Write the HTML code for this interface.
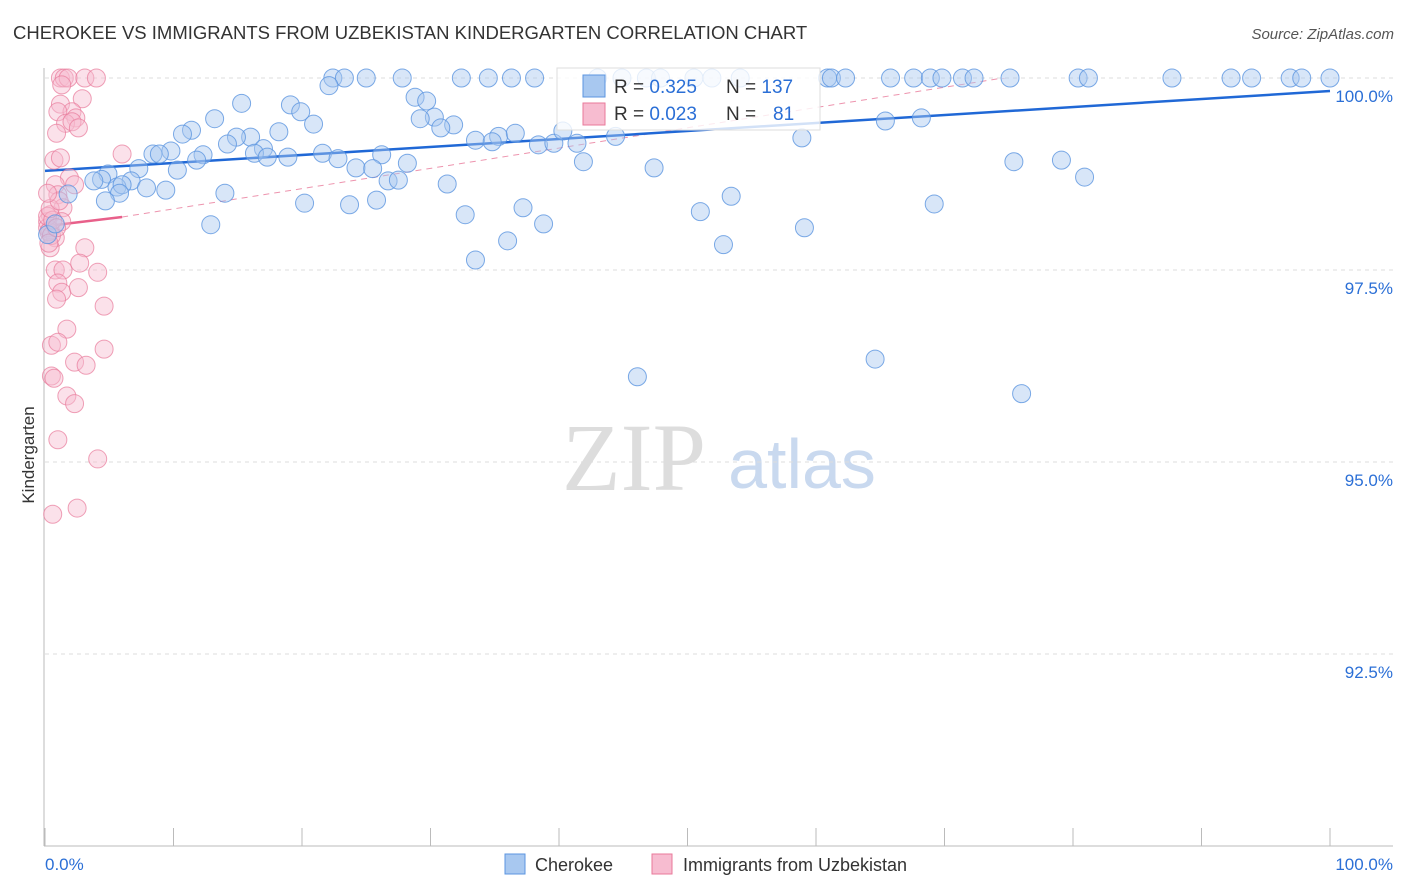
<!DOCTYPE html>
<html><head><meta charset="utf-8"><style>
body{margin:0;background:#fff;font-family:"Liberation Sans",sans-serif}
svg{display:block}
</style></head><body>
<svg id="chart" width="1406" height="892" viewBox="0 0 1406 892">
<text x="13" y="39" font-size="18.5" fill="#333">CHEROKEE VS IMMIGRANTS FROM UZBEKISTAN KINDERGARTEN CORRELATION CHART</text>
<text x="1394" y="39" font-size="15" fill="#555" font-style="italic" text-anchor="end">Source: ZipAtlas.com</text>
<text x="34" y="455" font-size="17" fill="#333" transform="rotate(-90 34 455)" text-anchor="middle">Kindergarten</text>
<g>
<text x="634" y="490" font-size="96" fill="#ddd" text-anchor="middle" font-family="Liberation Serif,serif">ZIP</text>
<text x="802" y="488" font-size="70" fill="#c9d9ef" text-anchor="middle">atlas</text>
</g>
<g id="grid"></g><g id="axes"></g>
<defs><clipPath id="clip"><rect x="40" y="78" width="1360" height="769"/></clipPath></defs>
<g id="trends" clip-path="url(#clip)"></g>
<g id="points"></g>
<g>
<rect x="557" y="68" width="263" height="62" fill="#fff" fill-opacity="0.8" stroke="#ddd"/>
<rect x="583" y="75" width="22" height="22" fill="#a8c8f0" stroke="#5b95e0"/>
<rect x="583" y="103" width="22" height="22" fill="#f7bcd0" stroke="#e8799a"/>
<text x="614" y="93" font-size="19" fill="#333">R = <tspan fill="#2b6fd6">0.325</tspan><tspan x="726">N = </tspan><tspan fill="#2b6fd6">137</tspan></text>
<text x="614" y="120" font-size="19" fill="#333">R = <tspan fill="#2b6fd6">0.023</tspan><tspan x="726">N = </tspan><tspan fill="#2b6fd6" x="773">81</tspan></text>
</g>
<g>
<rect x="505" y="854" width="20" height="20" fill="#a8c8f0" stroke="#5b95e0"/>
<text x="535" y="871" font-size="18" fill="#333">Cherokee</text>
<rect x="652" y="854" width="20" height="20" fill="#f7bcd0" stroke="#e8799a"/>
<text x="683" y="871" font-size="18" fill="#333">Immigrants from Uzbekistan</text>
</g>
</svg>
<script>
const yTicks=[100,97.5,95,92.5];
const yTickLabels=["100.0%","97.5%","95.0%","92.5%"];
const xTickLabels=["0.0%","100.0%"];
const blueX=[22.4,23.3,25.0,27.8,32.4,34.5,36.3,38.1,43.0,44.9,46.8,47.9,50.5,51.9,54.1,60.9,61.2,62.3,65.8,67.6,68.9,69.8,71.4,72.3,75.1,80.4,81.2,87.7,92.3,93.9,96.9,97.8,100,
22.1,15.3,19.1,28.8,29.7,19.9,30.3,29.2,13.2,20.9,31.8,30.8,11.4,10.7,18.2,16.0,14.9,14.2,17.0,9.8,8.4,8.9,16.3,21.6,26.2,12.3,17.3,18.9,11.8,22.8,28.2,24.2,25.5,10.3,7.3,26.7,27.5,31.3,4.9,4.4,3.8,6.7,5.6,6.0,7.9,9.4,14.0,1.8,5.8,4.7,20.2,23.7,25.8,12.9,32.7,37.2,36.0,38.8,33.5,33.5,35.3,36.6,34.8,38.4,39.6,40.3,41.4,41.9,44.4,47.4,51.0,52.8,53.4,59.1,58.9,64.6,46.1,65.4,68.2,69.2,75.4,79.1,80.9,76.0,0.2,0.8];
const blueY=[100,100,100,100,100,100,100,100,100,100,100,100,100,100,100,100,100,100,100,100,100,100,100,100,100,100,100,100,100,100,100,100,100,
99.9,99.67,99.65,99.75,99.7,99.56,99.49,99.47,99.47,99.4,99.39,99.35,99.32,99.27,99.3,99.23,99.23,99.14,99.08,99.05,99.01,99.01,99.02,99.02,99.0,99.0,98.97,98.97,98.93,98.95,98.89,98.83,98.82,98.8,98.82,98.66,98.67,98.62,98.75,98.68,98.66,98.66,98.58,98.61,98.57,98.54,98.5,98.49,98.5,98.4,98.37,98.35,98.41,98.09,98.22,98.31,97.88,98.1,97.63,99.19,99.24,99.28,99.17,99.13,99.15,99.31,99.15,98.91,99.24,98.83,98.26,97.83,98.46,98.05,99.22,96.34,96.11,99.44,99.48,98.36,98.91,98.93,98.71,95.89,97.96,98.1];
const pinkX=[1.2,1.5,1.8,3.1,4.0,1.3,1.2,2.9,2.1,2.4,1.0,1.6,2.1,2.6,0.9,0.7,1.2,6.0,1.9,0.8,2.3,1.0,1.4,0.4,0.2,1.3,0.4,0.8,0.4,3.1,2.7,0.8,1.4,4.1,1.0,1.3,2.6,0.9,4.6,1.7,0.5,1.0,4.6,2.3,3.2,0.5,0.7,1.7,2.3,1.0,4.1,0.6,2.5,0.2,0.3,0.5,0.2,0.6,0.4,0.3,0.9,1.1,0.2];
const pinkY=[100,100,100,100,100,99.91,99.66,99.73,99.56,99.48,99.56,99.41,99.43,99.35,99.28,98.93,98.96,99.01,98.7,98.61,98.61,98.48,98.31,98.22,98.13,98.13,98.02,97.92,97.79,97.79,97.59,97.5,97.5,97.47,97.33,97.21,97.27,97.12,97.03,96.73,96.52,96.56,96.47,96.3,96.26,96.12,96.09,95.86,95.76,95.29,95.04,94.32,94.4,98.05,98.0,97.95,98.2,98.15,98.3,97.85,98.05,98.4,98.5];
const blueTrend=[98.79,99.83];
const pinkTrend=[98.07,98.19,6];
const X=v=>45+v*12.85, Y=v=>78+(100-v)*76.8;
const NS="http://www.w3.org/2000/svg";
function mk(tag,attrs,parent){const e=document.createElementNS(NS,tag);for(const k in attrs)e.setAttribute(k,attrs[k]);parent.appendChild(e);return e;}
const grid=document.getElementById('grid'),axes=document.getElementById('axes');
yTicks.forEach((t,i)=>{
 const l=mk('line',{x1:45,x2:1393,y1:Y(t),y2:Y(t),stroke:'#ddd','stroke-dasharray':'4,4'},grid);
 
 
 const tx=mk('text',{x:1393,y:Y(t)+24,'font-size':17,fill:'#2b6fd6','text-anchor':'end'},axes);
 tx.textContent=yTickLabels[i];
 
 
});
const ax=mk('line',{x1:44,x2:44,y1:68,y2:846,stroke:'#bbb'},axes);


const bx=mk('line',{x1:44,x2:1393,y1:846,y2:846,stroke:'#bbb'},axes);


for(let i=0;i<=10;i++){const t=mk('line',{x1:X(i*10),x2:X(i*10),y1:828,y2:846,stroke:'#bbb'},axes);
 
 }
[[0,'start',45],[100,'end',1393]].forEach((d,i)=>{const t=mk('text',{x:d[2],y:870,'font-size':17,fill:'#2b6fd6','text-anchor':d[1]},axes);t.textContent=xTickLabels[i];
 
 });
const pts=document.getElementById('points');
pinkX.forEach((x,i)=>{const c=mk('circle',{cx:X(x),cy:Y(pinkY[i]),r:9,fill:'#f7bcd0','fill-opacity':0.45,stroke:'#e8799a','stroke-opacity':0.7},pts);
 
 });
blueX.forEach((x,i)=>{const c=mk('circle',{cx:X(x),cy:Y(blueY[i]),r:9,fill:'#a8c8f0','fill-opacity':0.45,stroke:'#5b95e0','stroke-opacity':0.8},pts);
 
 });
const tr=document.getElementById('trends');
const slope=(pinkTrend[1]-pinkTrend[0])/pinkTrend[2]*1.32;
const pd=mk('line',{x1:X(pinkTrend[2]),y1:Y(pinkTrend[1]),x2:X(100),y2:Y(pinkTrend[1]+slope*(100-pinkTrend[2])),stroke:'#e8799a','stroke-width':1,'stroke-opacity':0.8,'stroke-dasharray':'6,5'},tr);


const ps=mk('line',{x1:X(0),y1:Y(pinkTrend[0]),x2:X(pinkTrend[2]),y2:Y(pinkTrend[1]),stroke:'#e8608a','stroke-width':2.5},tr);


const bl=mk('line',{x1:X(0),y1:Y(blueTrend[0]),x2:X(100),y2:Y(blueTrend[1]),stroke:'#2068d6','stroke-width':2.5},tr);


</script>
</body></html>
